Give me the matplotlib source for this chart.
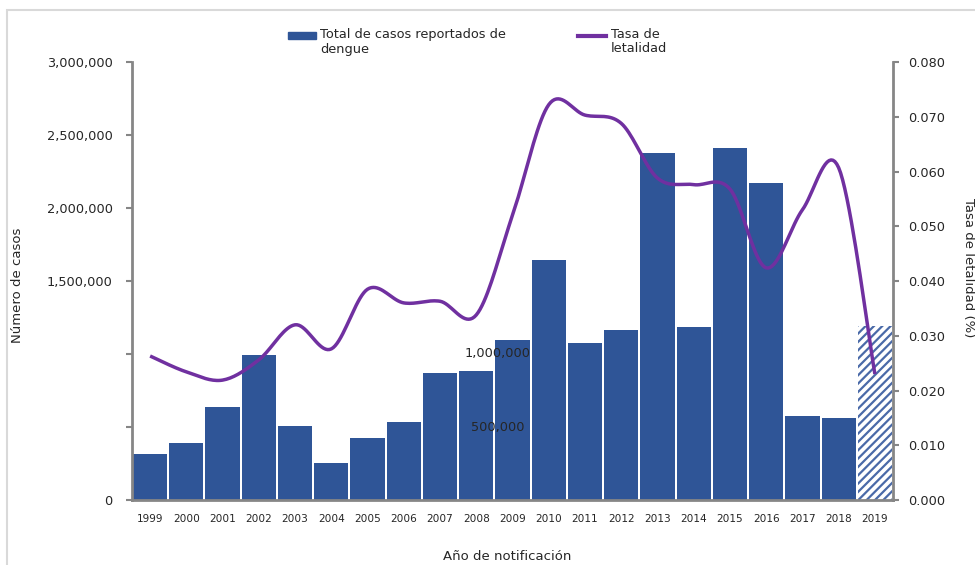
"""Dengue cases and case-fatality rate, 1999-2019."""

import numpy as np
import matplotlib
matplotlib.use("Agg")
import matplotlib.pyplot as plt
from matplotlib.patches import Rectangle
from matplotlib.lines import Line2D
from matplotlib.ticker import FuncFormatter, MultipleLocator
import matplotlib.transforms as mtransforms

years = [str(y) for y in range(1999, 2020)]
casos = [315000, 390000, 637000, 993000, 507000, 253000, 425000, 534000,
         870000, 884000, 1096000, 1644000, 1075000, 1164000, 2377000,
         1185000, 2411000, 2171000, 575000, 562000, 1192000]
letalidad = [0.0263, 0.0234, 0.0219, 0.0256, 0.0320, 0.0276, 0.0385, 0.0360,
             0.0363, 0.0338, 0.0520, 0.0722, 0.0703, 0.0688, 0.0588, 0.0576,
             0.0568, 0.0424, 0.0530, 0.0607, 0.0230]

BAR_COLOR = "#2F5597"
LINE_COLOR = "#7030A0"
SPINE_COLOR = "#868686"
TEXT_COLOR = "#262626"

plt.rcParams['font.family'] = ['DejaVu Sans']
plt.rcParams['hatch.linewidth'] = 1.6


def smooth(x, y, steps=20):
    """Catmull-Rom style smoothing, like a spreadsheet 'smoothed line'."""
    x = np.asarray(x, float)
    y = np.asarray(y, float)
    px = np.concatenate([[x[0]], x, [x[-1]]])
    py = np.concatenate([[y[0]], y, [y[-1]]])
    xs, ys = [], []
    t = np.linspace(0, 1, steps)
    for i in range(1, len(px) - 2):
        p0 = np.array([px[i - 1], py[i - 1]])
        p1 = np.array([px[i], py[i]])
        p2 = np.array([px[i + 1], py[i + 1]])
        p3 = np.array([px[i + 2], py[i + 2]])
        c1 = p1 + (p2 - p0) / 6
        c2 = p2 - (p3 - p1) / 6
        pts = ((1 - t)[:, None] ** 3 * p1 + 3 * ((1 - t) ** 2 * t)[:, None] * c1
               + 3 * ((1 - t) * t ** 2)[:, None] * c2 + (t ** 3)[:, None] * p2)
        xs.extend(pts[:, 0])
        ys.extend(pts[:, 1])
    return np.array(xs), np.array(ys)


W, H = 975, 565
fig = plt.figure(figsize=(W / 100, H / 100), dpi=100)
ax = fig.add_axes([132 / W, (H - 500) / H, (893 - 132) / W, (500 - 62) / H])

# outer frame of the original chart box
fig.add_artist(Rectangle((7 / W, -0.1), 1.2, (H - 10) / H + 0.1,
                         transform=fig.transFigure, fill=False,
                         edgecolor="#d9d9d9", linewidth=1.5))

x = np.arange(len(years))
bars = ax.bar(x, casos, width=0.945, color=BAR_COLOR, zorder=2)
last = bars[-1]
last.set_facecolor("white")
last.set_edgecolor("#4a6aa8")
last.set_hatch("////")
last.set_linewidth(0)

ax.set_xlim(-0.5, len(years) - 0.5)
ax.set_ylim(0, 3000000)
ax.yaxis.set_major_locator(MultipleLocator(500000))
hidden = {500000, 1000000}
ax.yaxis.set_major_formatter(FuncFormatter(
    lambda v, p: "" if int(round(v)) in hidden else f"{int(round(v)):,}"))
ax.set_xticks(x)
ax.set_xticklabels(years, fontsize=7.6, color=TEXT_COLOR)
ax.tick_params(axis="x", length=0, pad=10)
ax.tick_params(axis="y", length=4, width=1.5, color=SPINE_COLOR,
               labelsize=9.3, labelcolor=TEXT_COLOR, pad=10)
for side in ("top", "right"):
    ax.spines[side].set_visible(False)
for side in ("left", "bottom"):
    ax.spines[side].set_color(SPINE_COLOR)
    ax.spines[side].set_linewidth(2)

# two left labels sit inside the plot in the original
trans = mtransforms.blended_transform_factory(ax.transAxes, ax.transData)
ax.text(0.524, 1000000, "1,000,000", transform=trans, ha="right",
        va="center", fontsize=9.3, color=TEXT_COLOR, zorder=5)
ax.text(0.516, 500000, "500,000", transform=trans, ha="right",
        va="center", fontsize=9.3, color=TEXT_COLOR, zorder=5)

fig.text(18 / W, 1 - 285 / H, "Número de casos", rotation=90,
         ha="center", va="center", fontsize=9.5, color=TEXT_COLOR)
fig.text(507 / W, 1 - 556 / H, "Año de notificación", ha="center",
         va="center", fontsize=9.5, color=TEXT_COLOR)

ax2 = ax.twinx()
sx, sy = smooth(x, letalidad)
ax2.plot(sx, sy, color=LINE_COLOR, linewidth=2.5, solid_capstyle="butt",
         zorder=3)
ax2.set_ylim(0, 0.08)
ax2.yaxis.set_major_locator(MultipleLocator(0.01))
ax2.yaxis.set_major_formatter(FuncFormatter(lambda v, p: f"{v:.3f}"))
ax2.tick_params(axis="y", length=4, width=1.5, color=SPINE_COLOR,
                labelsize=9.3, labelcolor=TEXT_COLOR, pad=7)
for side in ("top", "left", "bottom"):
    ax2.spines[side].set_visible(False)
ax2.spines["right"].set_color(SPINE_COLOR)
ax2.spines["right"].set_linewidth(2)
fig.text(968 / W, 1 - 268 / H, "Tasa de letalidad (%)", rotation=-90,
         ha="center", va="center", fontsize=9.5, color=TEXT_COLOR)

# legend drawn at the top, handles level with the first text line
fig.add_artist(Rectangle((288 / W, 1 - 39 / H), 28 / W, 7 / H,
                         transform=fig.transFigure, color=BAR_COLOR))
fig.text(320 / W, 1 - 28 / H, "Total de casos reportados de\ndengue",
         ha="left", va="top", fontsize=9.3, color=TEXT_COLOR,
         linespacing=1.15)
fig.add_artist(Line2D([578 / W, 606 / W], [1 - 35.5 / H, 1 - 35.5 / H],
                      transform=fig.transFigure, color=LINE_COLOR,
                      linewidth=3))
fig.text(611 / W, 1 - 28 / H, "Tasa de\nletalidad", ha="left", va="top",
         fontsize=9.3, color=TEXT_COLOR, linespacing=1.15)

fig.savefig("out.png", dpi=100)
